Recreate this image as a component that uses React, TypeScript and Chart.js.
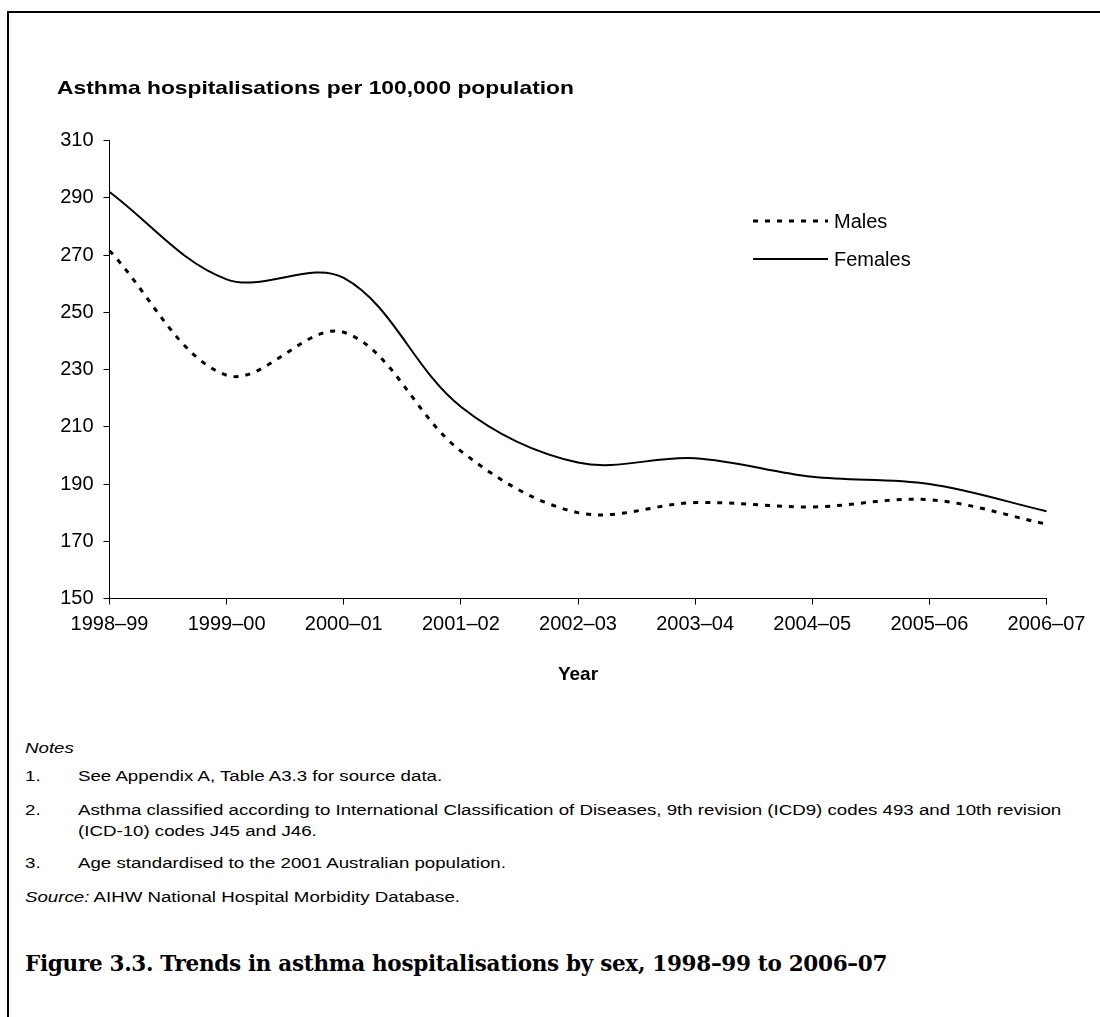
import React, { useEffect, useRef } from "react";
import { Chart, registerables } from "chart.js";

Chart.register(...registerables);

const years = ["1998–99", "1999–00", "2000–01", "2001–02", "2002–03", "2003–04", "2004–05", "2005–06", "2006–07"];
const males = [271.5, 228, 243, 201.5, 180, 183.5, 182, 184.5, 176];
const females = [292, 261.5, 262, 217, 197.5, 199, 192.5, 190, 180.5];
const yTicks = [150, 170, 190, 210, 230, 250, 270, 290, 310];
const seriesLabels = ["Males", "Females"];

const SANS = "'Liberation Sans', Arial, sans-serif";

const legendPlugin = {
  id: "insideLegend",
  afterDatasetsDraw(chart: any) {
    const ctx = chart.ctx;
    const rows = [221, 259];
    ctx.save();
    chart.data.datasets.forEach((ds: any, i: number) => {
      const y = rows[i];
      ctx.beginPath();
      ctx.strokeStyle = ds.borderColor;
      ctx.lineWidth = ds.borderWidth;
      ctx.setLineDash(ds.borderDash || []);
      ctx.moveTo(753, y);
      ctx.lineTo(828, y);
      ctx.stroke();
      ctx.setLineDash([]);
      ctx.fillStyle = "#000";
      ctx.font = `20px ${SANS}`;
      ctx.textBaseline = "middle";
      ctx.textAlign = "left";
      ctx.fillText(ds.label, 834, y + 1);
    });
    ctx.restore();
  },
};

export default function App() {
  const ref = useRef<HTMLCanvasElement | null>(null);

  useEffect(() => {
    if (!ref.current) return;
    const chart = new Chart(ref.current, {
      type: "line",
      data: {
        labels: years,
        datasets: [
          {
            label: seriesLabels[0],
            data: males,
            borderColor: "#000",
            borderWidth: 3,
            borderDash: [5, 7],
            pointRadius: 0,
            tension: 0.35,
            fill: false,
          },
          {
            label: seriesLabels[1],
            data: females,
            borderColor: "#000",
            borderWidth: 2,
            pointRadius: 0,
            tension: 0.35,
            fill: false,
          },
        ],
      },
      options: {
        animation: false,
        responsive: false,
        devicePixelRatio: 1,
        layout: { padding: { top: 140.5, right: 53.5, left: 0, bottom: 0 } },
        plugins: {
          legend: { display: false },
          tooltip: { enabled: false },
        },
        scales: {
          x: {
            afterFit: (s: any) => {
              s.height = 101.5;
            },
            grid: { display: true, drawOnChartArea: false, drawTicks: true, tickLength: 6, color: "#000", lineWidth: 1 },
            border: { display: true, color: "#000", width: 1 },
            ticks: {
              color: "#000",
              autoSkip: false,
              maxRotation: 0,
              padding: 8,
              font: { family: SANS, size: 20 },
            },
            title: {
              display: true,
              text: "Year",
              color: "#000",
              font: { family: SANS, size: 19, weight: "bold" },
              padding: { top: 0, bottom: 14 },
            },
          },
          y: {
            min: 150,
            max: 310,
            afterFit: (s: any) => {
              s.width = 109.5;
            },
            afterBuildTicks: (s: any) => {
              s.ticks = yTicks.map((v) => ({ value: v }));
            },
            grid: { display: true, drawOnChartArea: false, drawTicks: true, tickLength: 6, color: "#000", lineWidth: 1 },
            border: { display: true, color: "#000", width: 1 },
            ticks: {
              color: "#000",
              padding: 10,
              font: { family: SANS, size: 20 },
            },
          },
        },
      },
      plugins: [legendPlugin],
    });
    return () => chart.destroy();
  }, []);

  const txt: React.CSSProperties = {
    position: "absolute",
    fontFamily: SANS,
    fontSize: 15.5,
    lineHeight: "20px",
    color: "#000",
    whiteSpace: "nowrap",
  };
  const TX = 44;

  return (
    <div style={{ position: "fixed", left: 0, top: 0, width: 1100, height: 1017, overflow: "hidden", background: "#fff" }}>
      <div style={{ position: "absolute", left: 7, top: 11, width: 1300, height: 1200, border: "2px solid #000", boxSizing: "border-box" }} />
      <canvas ref={ref} width={1100} height={700} style={{ position: "absolute", left: 0, top: 0, width: 1100, height: 700 }} />
      <div
        style={{
          ...txt,
          left: 57,
          top: 76,
          fontSize: 19,
          lineHeight: "24px",
          fontWeight: "bold",
          transform: "scaleX(1.2)",
          transformOrigin: "0 0",
        }}
      >
        Asthma hospitalisations per 100,000 population
      </div>
      <div
        style={{
          position: "absolute",
          left: 25,
          top: 738,
          width: 900,
          height: 180,
          transform: "scaleX(1.205)",
          transformOrigin: "0 0",
        }}
      >
        <div style={{ ...txt, left: 0, top: 0, fontStyle: "italic" }}>Notes</div>
        <div style={{ ...txt, left: 0, top: 28 }}>1.</div>
        <div style={{ ...txt, left: TX, top: 28 }}>See Appendix A, Table A3.3 for source data.</div>
        <div style={{ ...txt, left: 0, top: 62 }}>2.</div>
        <div style={{ ...txt, left: TX, top: 62 }}>
          Asthma classified according to International Classification of Diseases, 9th revision (ICD9) codes 493 and 10th revision
        </div>
        <div style={{ ...txt, left: TX, top: 83 }}>(ICD-10) codes J45 and J46.</div>
        <div style={{ ...txt, left: 0, top: 115 }}>3.</div>
        <div style={{ ...txt, left: TX, top: 115 }}>Age standardised to the 2001 Australian population.</div>
        <div style={{ ...txt, left: 0, top: 149 }}>
          <span style={{ fontStyle: "italic" }}>Source:</span> AIHW National Hospital Morbidity Database.
        </div>
      </div>
      <div
        style={{
          ...txt,
          left: 25,
          top: 950,
          fontFamily: "'DejaVu Serif', 'Liberation Serif', serif",
          fontSize: 21.5,
          letterSpacing: "-0.3px",
          lineHeight: "28px",
          fontWeight: "bold",
        }}
      >
        Figure 3.3. Trends in asthma hospitalisations by sex, 1998–99 to 2006–07
      </div>
    </div>
  );
}
